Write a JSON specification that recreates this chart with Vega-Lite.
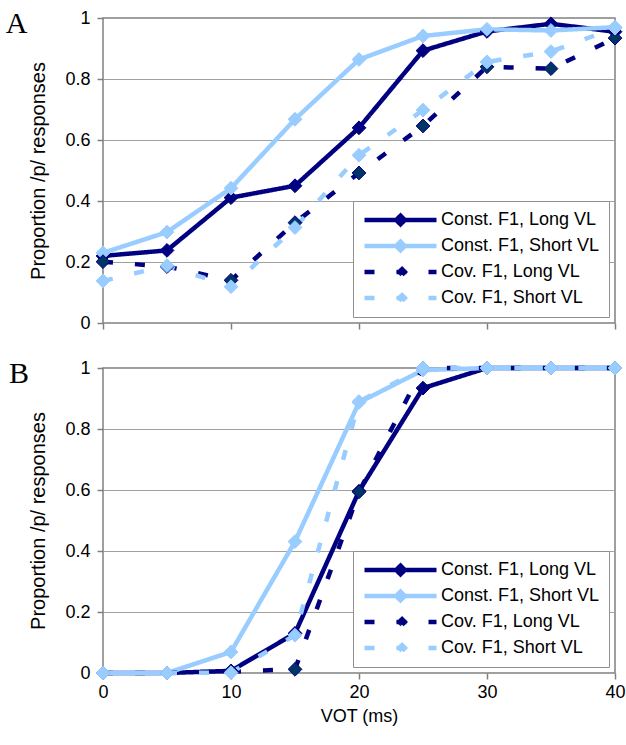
{
  "$schema": "https://vega.github.io/schema/vega-lite/v6.json",
  "padding": {"left": 4, "top": 8, "right": 2, "bottom": 5},
  "background": "white",
  "config": {
    "font": "Liberation Sans",
    "view": {"stroke": "#808080", "strokeWidth": 1.5},
    "axis": {
      "labelFont": "Liberation Sans", "labelFontSize": 18, "labelColor": "black",
      "titleFont": "Liberation Sans", "titleFontSize": 18, "titleFontWeight": "normal", "titleColor": "black",
      "domain": false, "tickColor": "#808080", "tickSize": 6, "tickWidth": 1.5,
      "gridColor": "#a0a0a0", "gridWidth": 1,
      "labelFlush": false, "labelOverlap": false, "labelPadding": 4
    },
    "legend": {
      "orient": "bottom-right", "offset": 6,
      "padding": 9, "rowPadding": 6, "clipHeight": 20,
      "strokeColor": "#909090", "fillColor": "white",
      "labelFont": "Liberation Sans", "labelFontSize": 18, "labelColor": "black", "labelOffset": 2, "labelLimit": 400,
      "symbolSize": 5184, "symbolStrokeWidth": 4.5,
      "symbolType": "M-1,0H1M0,-0.12L0.12,0L0,0.12L-0.12,0Z"
    }
  },
  "datasets": {
    "A": [
      {"series": "Const. F1, Long VL", "vot": 0, "p": 0.22},
      {"series": "Const. F1, Long VL", "vot": 5, "p": 0.238},
      {"series": "Const. F1, Long VL", "vot": 10, "p": 0.411},
      {"series": "Const. F1, Long VL", "vot": 15, "p": 0.45},
      {"series": "Const. F1, Long VL", "vot": 20, "p": 0.64},
      {"series": "Const. F1, Long VL", "vot": 25, "p": 0.893},
      {"series": "Const. F1, Long VL", "vot": 30, "p": 0.956},
      {"series": "Const. F1, Long VL", "vot": 35, "p": 0.981},
      {"series": "Const. F1, Long VL", "vot": 40, "p": 0.955},
      {"series": "Const. F1, Short VL", "vot": 0, "p": 0.23},
      {"series": "Const. F1, Short VL", "vot": 5, "p": 0.298},
      {"series": "Const. F1, Short VL", "vot": 10, "p": 0.442},
      {"series": "Const. F1, Short VL", "vot": 15, "p": 0.668},
      {"series": "Const. F1, Short VL", "vot": 20, "p": 0.864},
      {"series": "Const. F1, Short VL", "vot": 25, "p": 0.941},
      {"series": "Const. F1, Short VL", "vot": 30, "p": 0.963},
      {"series": "Const. F1, Short VL", "vot": 35, "p": 0.959},
      {"series": "Const. F1, Short VL", "vot": 40, "p": 0.97},
      {"series": "Cov. F1, Long VL", "vot": 0, "p": 0.201},
      {"series": "Cov. F1, Long VL", "vot": 5, "p": 0.185},
      {"series": "Cov. F1, Long VL", "vot": 10, "p": 0.14},
      {"series": "Cov. F1, Long VL", "vot": 15, "p": 0.329},
      {"series": "Cov. F1, Long VL", "vot": 20, "p": 0.492},
      {"series": "Cov. F1, Long VL", "vot": 25, "p": 0.646},
      {"series": "Cov. F1, Long VL", "vot": 30, "p": 0.84},
      {"series": "Cov. F1, Long VL", "vot": 35, "p": 0.834},
      {"series": "Cov. F1, Long VL", "vot": 40, "p": 0.934},
      {"series": "Cov. F1, Short VL", "vot": 0, "p": 0.138},
      {"series": "Cov. F1, Short VL", "vot": 5, "p": 0.188},
      {"series": "Cov. F1, Short VL", "vot": 10, "p": 0.119},
      {"series": "Cov. F1, Short VL", "vot": 15, "p": 0.313},
      {"series": "Cov. F1, Short VL", "vot": 20, "p": 0.55},
      {"series": "Cov. F1, Short VL", "vot": 25, "p": 0.698},
      {"series": "Cov. F1, Short VL", "vot": 30, "p": 0.856},
      {"series": "Cov. F1, Short VL", "vot": 35, "p": 0.89},
      {"series": "Cov. F1, Short VL", "vot": 40, "p": 0.967}
    ],
    "B": [
      {"series": "Const. F1, Long VL", "vot": 0, "p": 0},
      {"series": "Const. F1, Long VL", "vot": 5, "p": 0},
      {"series": "Const. F1, Long VL", "vot": 10, "p": 0.007},
      {"series": "Const. F1, Long VL", "vot": 15, "p": 0.13},
      {"series": "Const. F1, Long VL", "vot": 20, "p": 0.596},
      {"series": "Const. F1, Long VL", "vot": 25, "p": 0.934},
      {"series": "Const. F1, Long VL", "vot": 30, "p": 1},
      {"series": "Const. F1, Long VL", "vot": 35, "p": 1},
      {"series": "Const. F1, Long VL", "vot": 40, "p": 1},
      {"series": "Const. F1, Short VL", "vot": 0, "p": 0},
      {"series": "Const. F1, Short VL", "vot": 5, "p": 0},
      {"series": "Const. F1, Short VL", "vot": 10, "p": 0.069},
      {"series": "Const. F1, Short VL", "vot": 15, "p": 0.431},
      {"series": "Const. F1, Short VL", "vot": 20, "p": 0.887},
      {"series": "Const. F1, Short VL", "vot": 25, "p": 0.993},
      {"series": "Const. F1, Short VL", "vot": 30, "p": 1},
      {"series": "Const. F1, Short VL", "vot": 35, "p": 1},
      {"series": "Const. F1, Short VL", "vot": 40, "p": 1},
      {"series": "Cov. F1, Long VL", "vot": 0, "p": 0},
      {"series": "Cov. F1, Long VL", "vot": 5, "p": 0},
      {"series": "Cov. F1, Long VL", "vot": 10, "p": 0.005},
      {"series": "Cov. F1, Long VL", "vot": 15, "p": 0.012},
      {"series": "Cov. F1, Long VL", "vot": 20, "p": 0.594},
      {"series": "Cov. F1, Long VL", "vot": 25, "p": 1},
      {"series": "Cov. F1, Long VL", "vot": 30, "p": 1},
      {"series": "Cov. F1, Long VL", "vot": 35, "p": 1},
      {"series": "Cov. F1, Long VL", "vot": 40, "p": 1},
      {"series": "Cov. F1, Short VL", "vot": 0, "p": 0},
      {"series": "Cov. F1, Short VL", "vot": 5, "p": 0},
      {"series": "Cov. F1, Short VL", "vot": 10, "p": 0.001},
      {"series": "Cov. F1, Short VL", "vot": 15, "p": 0.124},
      {"series": "Cov. F1, Short VL", "vot": 20, "p": 0.89},
      {"series": "Cov. F1, Short VL", "vot": 25, "p": 1},
      {"series": "Cov. F1, Short VL", "vot": 30, "p": 1},
      {"series": "Cov. F1, Short VL", "vot": 35, "p": 1},
      {"series": "Cov. F1, Short VL", "vot": 40, "p": 1}
    ]
  },
  "spacing": 25,
  "resolve": {
    "scale": {"color": "independent", "strokeDash": "independent", "fill": "independent", "stroke": "independent"},
    "legend": {"color": "independent", "strokeDash": "independent", "fill": "independent", "stroke": "independent"}
  },
  "vconcat": [
    {
      "width": 512, "height": 305,
      "data": {"name": "A"},
      "title": {"text": "A", "orient": "left", "anchor": "end", "angle": 0, "font": "Liberation Serif", "fontSize": 30, "fontWeight": "normal", "color": "black", "baseline": "top", "align": "right", "offset": -20},
      "encoding": {
        "x": {"field": "vot", "type": "quantitative", "scale": {"domain": [0, 40], "nice": false}, "axis": {"values": [0, 10, 20, 30, 40], "labels": false, "title": null, "grid": false}},
        "y": {"field": "p", "type": "quantitative", "scale": {"domain": [0, 1], "nice": false}, "axis": {"values": [0, 0.2, 0.4, 0.6, 0.8, 1], "format": "~g", "title": "Proportion /p/ responses", "titleFontSize": 20, "titlePadding": 16, "labelPadding": 7, "grid": true}}
      },
      "layer": [
        {
          "mark": {"type": "line", "strokeWidth": 4.5},
          "encoding": {
            "color": {"field": "series", "type": "nominal", "scale": {"domain": ["Const. F1, Long VL", "Const. F1, Short VL", "Cov. F1, Long VL", "Cov. F1, Short VL"], "range": ["#000080", "#99ccff", "#000080", "#99ccff"]},
              "legend": {"title": null, "encode": {"symbols": {"update": {"fill": {"signal": "datum.value === 'Cov. F1, Long VL' ? '#003366' : (indexof(datum.value, 'Long') >= 0 ? '#000080' : '#99ccff')"}, "stroke": {"signal": "indexof(datum.value, 'Long') >= 0 ? '#000080' : '#99ccff'"}, "shape": {"value": "M-1,0H1M0,-0.12L0.12,0L0,0.12L-0.12,0Z"}, "size": {"value": 5184}, "strokeWidth": {"value": 4.5}, "opacity": {"value": 1}, "strokeDash": {"signal": "indexof(datum.value, 'Cov') === 0 ? [10, 22] : [1, 0]"}}}}}},
            "strokeDash": {"field": "series", "type": "nominal", "scale": {"domain": ["Const. F1, Long VL", "Const. F1, Short VL", "Cov. F1, Long VL", "Cov. F1, Short VL"], "range": [[1, 0], [1, 0], [10, 22], [10, 22]]}, "legend": {"title": null}}
          }
        },
        {
          "mark": {"type": "point", "shape": "diamond", "filled": true, "size": 190, "opacity": 1, "strokeWidth": 1},
          "encoding": {
            "fill": {"field": "series", "type": "nominal", "scale": {"domain": ["Const. F1, Long VL", "Const. F1, Short VL", "Cov. F1, Long VL", "Cov. F1, Short VL"], "range": ["#000080", "#99ccff", "#003366", "#99ccff"]}, "legend": {"title": null}},
            "stroke": {"field": "series", "type": "nominal", "scale": {"domain": ["Const. F1, Long VL", "Const. F1, Short VL", "Cov. F1, Long VL", "Cov. F1, Short VL"], "range": ["#000080", "#99ccff", "#000080", "#99ccff"]}, "legend": {"title": null}}
          }
        }
      ]
    },
    {
      "width": 512, "height": 305,
      "data": {"name": "B"},
      "title": {"text": "B", "orient": "left", "anchor": "end", "angle": 0, "font": "Liberation Serif", "fontSize": 30, "fontWeight": "normal", "color": "black", "baseline": "top", "align": "right", "offset": -20},
      "encoding": {
        "x": {"field": "vot", "type": "quantitative", "scale": {"domain": [0, 40], "nice": false}, "axis": {"values": [0, 10, 20, 30, 40], "title": "VOT (ms)", "titlePadding": 6, "grid": false}},
        "y": {"field": "p", "type": "quantitative", "scale": {"domain": [0, 1], "nice": false}, "axis": {"values": [0, 0.2, 0.4, 0.6, 0.8, 1], "format": "~g", "title": "Proportion /p/ responses", "titleFontSize": 20, "titlePadding": 16, "labelPadding": 7, "grid": true}}
      },
      "layer": [
        {
          "mark": {"type": "line", "strokeWidth": 4.5},
          "encoding": {
            "color": {"field": "series", "type": "nominal", "scale": {"domain": ["Const. F1, Long VL", "Const. F1, Short VL", "Cov. F1, Long VL", "Cov. F1, Short VL"], "range": ["#000080", "#99ccff", "#000080", "#99ccff"]},
              "legend": {"title": null, "encode": {"symbols": {"update": {"fill": {"signal": "datum.value === 'Cov. F1, Long VL' ? '#003366' : (indexof(datum.value, 'Long') >= 0 ? '#000080' : '#99ccff')"}, "stroke": {"signal": "indexof(datum.value, 'Long') >= 0 ? '#000080' : '#99ccff'"}, "shape": {"value": "M-1,0H1M0,-0.12L0.12,0L0,0.12L-0.12,0Z"}, "size": {"value": 5184}, "strokeWidth": {"value": 4.5}, "opacity": {"value": 1}, "strokeDash": {"signal": "indexof(datum.value, 'Cov') === 0 ? [10, 22] : [1, 0]"}}}}}},
            "strokeDash": {"field": "series", "type": "nominal", "scale": {"domain": ["Const. F1, Long VL", "Const. F1, Short VL", "Cov. F1, Long VL", "Cov. F1, Short VL"], "range": [[1, 0], [1, 0], [10, 22], [10, 22]]}, "legend": {"title": null}}
          }
        },
        {
          "mark": {"type": "point", "shape": "diamond", "filled": true, "size": 190, "opacity": 1, "strokeWidth": 1},
          "encoding": {
            "fill": {"field": "series", "type": "nominal", "scale": {"domain": ["Const. F1, Long VL", "Const. F1, Short VL", "Cov. F1, Long VL", "Cov. F1, Short VL"], "range": ["#000080", "#99ccff", "#003366", "#99ccff"]}, "legend": {"title": null}},
            "stroke": {"field": "series", "type": "nominal", "scale": {"domain": ["Const. F1, Long VL", "Const. F1, Short VL", "Cov. F1, Long VL", "Cov. F1, Short VL"], "range": ["#000080", "#99ccff", "#000080", "#99ccff"]}, "legend": {"title": null}}
          }
        }
      ]
    }
  ]
}
